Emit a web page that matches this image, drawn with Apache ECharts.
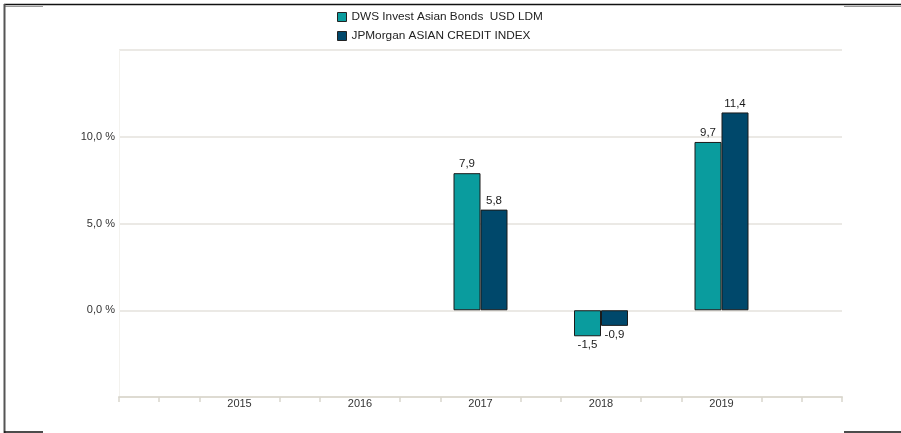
<!DOCTYPE html>
<html>
<head>
<meta charset="utf-8">
<script src="https://cdn.jsdelivr.net/npm/echarts@6/dist/echarts.min.js"></script>
<style>
  html, body { margin: 0; padding: 0; background: #fff; }
  #chart { width: 901px; height: 433px; }
</style>
</head>
<body>
<div id="chart"></div>
<script>
// categories (empty slots at both ends leave the wide margins)
const years = ["", "2015", "2016", "2017", "2018", "2019", ""];
// 19 slots: ticks at thirds of a year
const tickSlots = Array(19).fill("");

const dwsName = "DWS Invest Asian Bonds  USD LDM";
const jpmName = "JPMorgan ASIAN CREDIT INDEX";
const dwsValues = [null, null, null, 7.9, -1.5, 9.7, null];
const jpmValues = [null, null, null, 5.8, -0.9, 11.4, null];

const dwsColor = "#0a9c9e";
const jpmColor = "#00486b";
const font = "'Liberation Sans', Arial, sans-serif";

const fmt = (v) => v.toFixed(1).replace(".", ",");

// negative bars get the label below
const toBarData = (arr) =>
  arr.map((v) =>
    v == null ? null : { value: v, label: { position: v < 0 ? "bottom" : "top" } }
  );

const makeSeries = (name, values, color) => ({
  name: name,
  type: "bar",
  xAxisIndex: 0,
  data: toBarData(values),
  barWidth: 27,
  barGap: "0%",
  itemStyle: { color: color, borderColor: "#1b1b1b", borderWidth: 1 },
  label: {
    show: true,
    distance: 3,
    fontFamily: font,
    fontSize: 11.5,
    color: "#1a1a1a",
    formatter: (p) => fmt(p.value),
  },
});

const chart = echarts.init(document.getElementById("chart"));

chart.setOption({
  animation: false,
  backgroundColor: "#fff",
  textStyle: { fontFamily: font },
  legend: {
    orient: "vertical",
    left: 337,
    top: 11,
    padding: 0,
    itemWidth: 9,
    itemHeight: 9,
    itemGap: 7,
    icon: "rect",
    itemStyle: { borderColor: "#222", borderWidth: 1 },
    textStyle: { fontFamily: font, fontSize: 11.8, color: "#222" },
    data: [dwsName, jpmName],
  },
  grid: { left: 119, right: 59, top: 50, bottom: 36 },
  xAxis: [
    {
      type: "category",
      data: years,
      boundaryGap: false,
      axisLine: { onZero: false, lineStyle: { color: "#dedbd2", width: 2 } },
      axisTick: { show: false },
      axisLabel: { margin: 1, fontSize: 11, color: "#333", fontFamily: font, interval: 0 },
    },
    {
      type: "category",
      data: tickSlots,
      boundaryGap: false,
      position: "bottom",
      axisLine: { show: false, onZero: false },
      axisLabel: { show: false },
      axisTick: {
        show: true,
        length: 5,
        interval: (i) => i === 0 || i === 18 || i % 3 !== 0,
        lineStyle: { color: "#d9d6cd", width: 1.5 },
      },
    },
  ],
  yAxis: {
    type: "value",
    min: -5,
    max: 15,
    interval: 5,
    axisLine: { show: true, lineStyle: { color: "#f3f2ee" } },
    axisTick: { show: false },
    splitLine: { lineStyle: { color: "#e4e2dc", width: 1.5 } },
    axisLabel: {
      margin: 4,
      fontSize: 11,
      color: "#333",
      fontFamily: font,
      formatter: (v) => (v >= 0 && v < 15 ? fmt(v) + " %" : ""),
    },
  },
  series: [makeSeries(dwsName, dwsValues, dwsColor), makeSeries(jpmName, jpmValues, jpmColor)],
  graphic: [
    { type: "line", shape: { x1: 4, y1: 4.5, x2: 901, y2: 4.5 }, style: { stroke: "#111", lineWidth: 1.5 } },
    { type: "line", shape: { x1: 5, y1: 6.5, x2: 43, y2: 6.5 }, style: { stroke: "#999", lineWidth: 1 } },
    { type: "line", shape: { x1: 844, y1: 6.5, x2: 901, y2: 6.5 }, style: { stroke: "#999", lineWidth: 1 } },
    { type: "line", shape: { x1: 4.5, y1: 4, x2: 4.5, y2: 433 }, style: { stroke: "#555", lineWidth: 2 } },
    { type: "line", shape: { x1: 4, y1: 432, x2: 43, y2: 432 }, style: { stroke: "#111", lineWidth: 1.5 } },
    { type: "line", shape: { x1: 844, y1: 432, x2: 901, y2: 432 }, style: { stroke: "#111", lineWidth: 1.5 } },
  ],
});
</script>
</body>
</html>
